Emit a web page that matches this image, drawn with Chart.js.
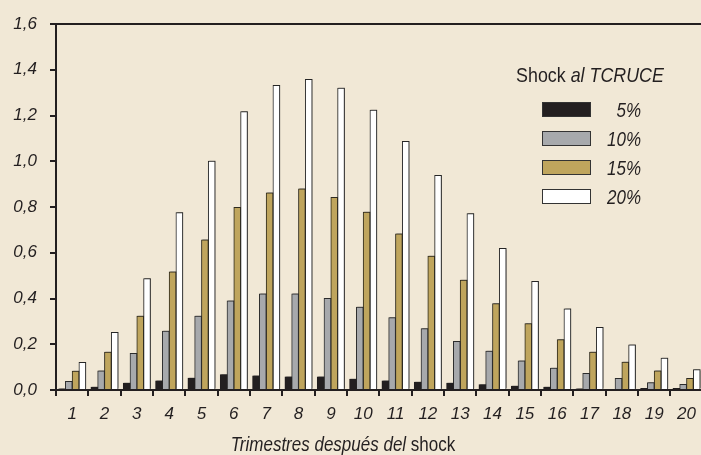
<!DOCTYPE html>
<html><head><meta charset="utf-8">
<script src="https://cdn.jsdelivr.net/npm/chart.js@4/dist/chart.umd.min.js"></script>
<style>
html,body{margin:0;padding:0;background:#f1e8d6;overflow:hidden}
#wrap{width:701px;height:455px;overflow:hidden}
canvas{display:block}
</style></head><body>
<div id="wrap"><canvas id="c" width="704" height="455"></canvas></div>
<script>
const categories = ['1','2','3','4','5','6','7','8','9','10','11','12','13','14','15','16','17','18','19','20'];
const seriesLabels = ['5%','10%','15%','20%'];
const shock5  = [0.005,0.012,0.030,0.040,0.052,0.067,0.062,0.057,0.057,0.047,0.040,0.034,0.030,0.023,0.017,0.012,0.005,0.004,0.007,0.007];
const shock10 = [0.038,0.083,0.160,0.257,0.323,0.389,0.420,0.420,0.400,0.362,0.316,0.268,0.213,0.170,0.127,0.095,0.073,0.051,0.032,0.025];
const shock15 = [0.082,0.165,0.323,0.516,0.656,0.798,0.862,0.879,0.842,0.777,0.682,0.585,0.480,0.377,0.290,0.220,0.166,0.122,0.083,0.051];
const shock20 = [0.121,0.252,0.487,0.775,1.000,1.217,1.332,1.358,1.320,1.223,1.087,0.938,0.771,0.619,0.475,0.355,0.274,0.197,0.139,0.089];
const legendTitleNormal = 'Shock ';
const legendTitleItalic = 'al TCRUCE';
const xTitleItalic = 'Trimestres después del ';
const xTitleNormal = 'shock';

const FONT = "'Liberation Sans Narrow','Arial Narrow','Liberation Sans',Arial,sans-serif";
const INK = '#231f20';
const BG = '#f1e8d6';
const fills = ['#231f20','#a7a9ac','#bfa55d','#ffffff'];
const borders = ['#231f20','#2e2e2e','#2f2a1c','#262626'];
const values = [shock5, shock10, shock15, shock20];
const SX = 0.85;

function nText(ctx, text, x, y){
  ctx.save(); ctx.translate(x, y); ctx.scale(SX, 1); ctx.fillText(text, 0, 0); ctx.restore();
}

const decor = {
  id:'decor',
  beforeDraw(chart){
    const ctx = chart.ctx;
    ctx.save();
    ctx.fillStyle = BG;
    ctx.fillRect(0,0,chart.width,chart.height);
    ctx.restore();
  },
  beforeDatasetsDraw(chart){
    const ctx = chart.ctx;
    ctx.save();
    ctx.shadowColor = 'rgba(40,40,40,0.45)';
    ctx.shadowOffsetX = 1; ctx.shadowOffsetY = -1; ctx.shadowBlur = 1;
  },
  afterDatasetsDraw(chart){
    chart.ctx.restore();
  },
  afterDraw(chart){
    const ctx = chart.ctx, a = chart.chartArea;
    ctx.save();
    ctx.strokeStyle = INK; ctx.lineWidth = 2;
    ctx.beginPath(); ctx.moveTo(a.left, Math.round(a.top)); ctx.lineTo(chart.width, Math.round(a.top)); ctx.stroke();
    ctx.fillStyle = INK;
    ctx.textBaseline = 'alphabetic'; ctx.textAlign = 'left';
    ctx.font = 'normal 21px ' + FONT;
    const w1 = ctx.measureText(legendTitleNormal).width * SX;
    ctx.font = 'italic 21px ' + FONT;
    const w2 = ctx.measureText(legendTitleItalic).width * SX;
    const x0 = 590 - (w1 + w2) / 2;
    ctx.font = 'normal 21px ' + FONT;
    nText(ctx, legendTitleNormal, x0, 82);
    ctx.font = 'italic 21px ' + FONT;
    nText(ctx, legendTitleItalic, x0 + w1, 82);
    chart.data.datasets.forEach((ds, i) => {
      const y = 102 + i * 29;
      ctx.fillStyle = ds.backgroundColor;
      ctx.fillRect(542, y, 49, 15);
      ctx.strokeStyle = '#333'; ctx.lineWidth = 1;
      ctx.strokeRect(542.5, y + 0.5, 48, 14);
      ctx.fillStyle = INK;
      ctx.font = 'italic 20px ' + FONT;
      const lw = ctx.measureText(ds.label).width * SX;
      nText(ctx, ds.label, 641 - lw, y + 15);
    });
    ctx.font = 'italic 20px ' + FONT;
    const t1 = ctx.measureText(xTitleItalic).width * SX;
    ctx.font = 'normal 20px ' + FONT;
    const t2 = ctx.measureText(xTitleNormal).width * SX;
    const xs = 343 - (t1 + t2) / 2;
    ctx.font = 'italic 20px ' + FONT;
    nText(ctx, xTitleItalic, xs, 451);
    ctx.font = 'normal 20px ' + FONT;
    nText(ctx, xTitleNormal, xs + t1, 451);
    ctx.restore();
  }
};

new Chart(document.getElementById('c'), {
  type:'bar',
  data:{
    labels: categories,
    datasets: values.map((v,i)=>({
      label: seriesLabels[i], data: v,
      backgroundColor: fills[i], borderColor: borders[i], borderWidth: 1,
      categoryPercentage: 0.84, barPercentage: 1.0, inflateAmount: 0.4
    }))
  },
  options:{
    responsive:false, animation:false, devicePixelRatio:1,
    layout:{padding:{top:24,left:0,right:0,bottom:0}},
    plugins:{legend:{display:false}, tooltip:{enabled:false}},
    scales:{
      x:{
        offset:true,
        afterFit(s){ s.height = 65; },
        border:{display:true,color:INK,width:2,z:1},
        grid:{offset:true,drawOnChartArea:false,drawTicks:true,tickLength:6,color:INK,lineWidth:2},
        ticks:{padding:8,color:INK,maxRotation:0,autoSkip:false,font:{family:FONT,size:17,style:'italic'}}
      },
      y:{
        min:0,max:1.6,
        afterFit(s){ s.width = 56; },
        border:{display:true,color:INK,width:2},
        grid:{drawOnChartArea:false,drawTicks:true,tickLength:6,color:INK,lineWidth:2},
        ticks:{stepSize:0.2,padding:13,color:INK,font:{family:FONT,size:17,style:'italic'},
          callback:v=>Number(v).toFixed(1).replace('.',',')}
      }
    }
  },
  plugins:[decor]
});
</script>
</body></html>
